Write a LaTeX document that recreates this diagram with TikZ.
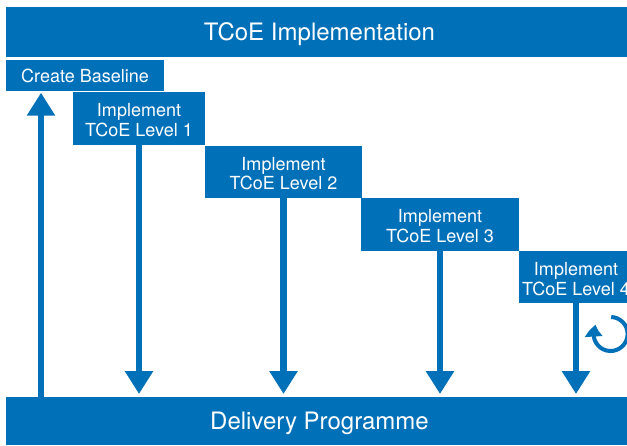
\documentclass[tikz,border=0pt]{standalone}
\usepackage{fontspec}
\setmainfont{TeX Gyre Heros}
\usetikzlibrary{arrows.meta,bending}
\definecolor{tblue}{RGB}{0,112,185}
\begin{document}
\begin{tikzpicture}[x=1pt,y=-1pt,
  blk/.style={fill=tblue,text=white,inner sep=0pt,outer sep=0pt,align=center},
  bigtxt/.style={font=\fontsize{24}{28}\selectfont,text height=17.2pt,text depth=0pt},
  onetxt/.style={font=\fontsize{18}{19.5}\selectfont,text height=14pt,text depth=0pt},
  twotxt/.style={font=\fontsize{18}{19.5}\selectfont,text height=36.4pt,text depth=1pt},
  arr/.style={draw=tblue,line width=6.5pt,-{Triangle[width=27pt,length=23pt]}},
  cyc/.style={draw=tblue,line width=4pt,-{Triangle[width=17pt,length=12pt,bend]}}]
\useasboundingbox (0,0) rectangle (627,445);
\clip (0,0) rectangle (627,445);
\node[blk,bigtxt,minimum width=627pt,minimum height=50pt] (top) at (319.5,32) {TCoE Implementation};
\node[blk,onetxt,minimum width=158pt,minimum height=30.5pt] (base) at (85,75.25) {Create Baseline};
\node[blk,twotxt,minimum width=132pt,minimum height=52.7pt] (l1) at (139,118.6) {Implement\\TCoE Level 1};
\node[blk,twotxt,minimum width=157pt,minimum height=52.3pt] (l2) at (283.5,172.2) {Implement\\TCoE Level 2};
\node[blk,twotxt,minimum width=158pt,minimum height=52.4pt] (l3) at (440,224.5) {Implement\\TCoE Level 3};
\node[blk,twotxt,minimum width=114pt,minimum height=52pt] (l4) at (576,277.4) {Implement\\TCoE Level 4};
\node[blk,bigtxt,minimum width=627pt,minimum height=48pt] (dp) at (319.5,421) {Delivery Programme};
\coordinate (upx) at (41,0);
\draw[arr,shorten >=2.2pt] (upx |- dp.north) -- (upx |- base.south);
\foreach \n in {l1,l2,l3,l4}{
  \draw[arr,shorten >=3pt] (\n.south) -- (\n.south |- dp.north);
}
\coordinate (cc) at (610.6,334);
\draw[cyc] ([shift={(-88:17)}]cc) arc[start angle=-88,end angle=212,radius=17];
\end{tikzpicture}
\end{document}
